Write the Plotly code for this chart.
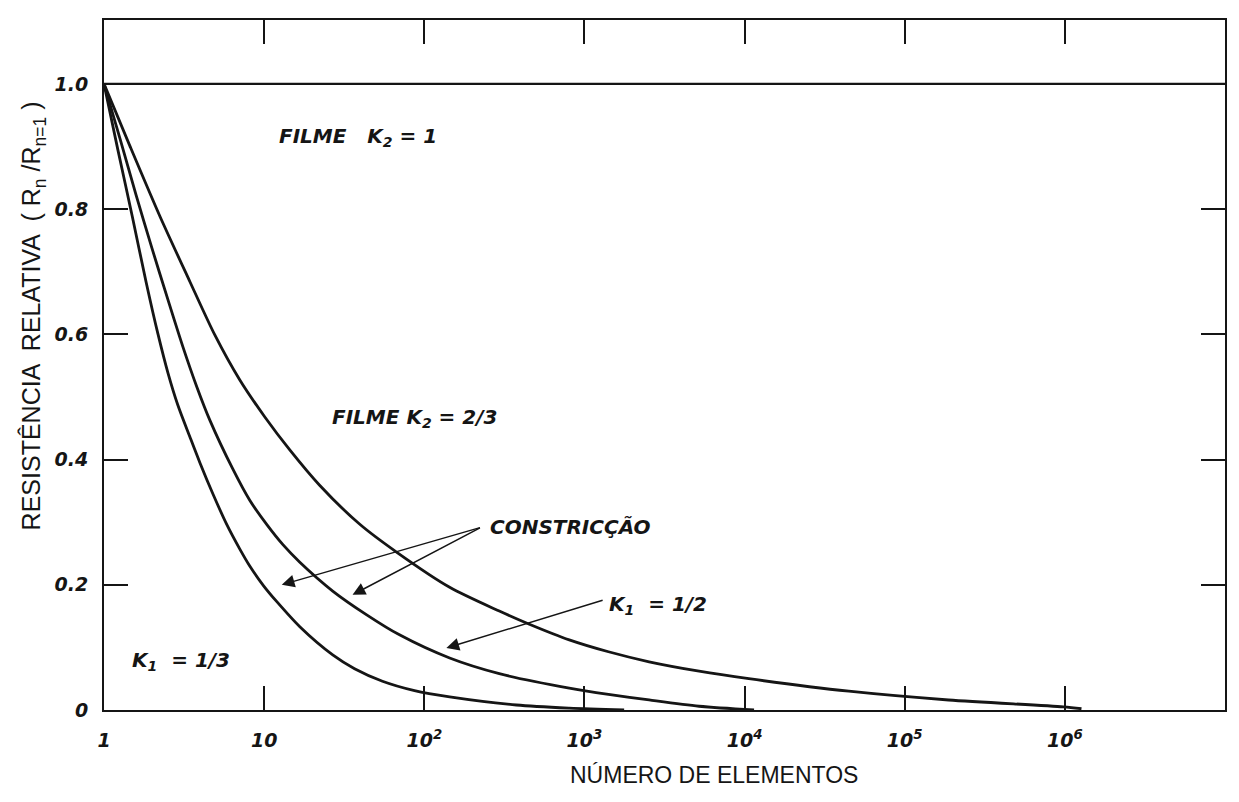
import plotly.graph_objects as go

# ---- data ----
# K1 = 1/3 constriction curve
n_k1_13 = [1, 1.22, 1.50, 1.83, 2.17, 2.51, 2.89, 3.44, 3.97, 4.79, 5.85, 7.05, 8.13,
           9.95, 12.0, 16.7, 26.8, 36.7, 54.8, 86.9, 144, 376, 804, 1770]
r_k1_13 = [1.0, 0.895, 0.789, 0.684, 0.601, 0.538, 0.487, 0.436, 0.395, 0.345, 0.296, 0.257,
           0.230, 0.198, 0.173, 0.133, 0.088, 0.066, 0.046, 0.031, 0.021, 0.008, 0.003, 0.0]

# K1 = 1/2 constriction curve
n_k1_12 = [1, 1.26, 1.58, 1.99, 2.51, 3.11, 3.80, 4.58, 6.37, 8.13, 10.4, 13.1, 16.7,
           26.8, 43.7, 70.0, 144, 294, 804, 1413, 2535, 5200, 11460]
r_k1_12 = [1.0, 0.912, 0.824, 0.738, 0.655, 0.580, 0.516, 0.463, 0.385, 0.335, 0.296, 0.264,
           0.236, 0.190, 0.152, 0.120, 0.083, 0.058, 0.035, 0.025, 0.016, 0.006, 0.0]

# Film K2 = 2/3 curve
n_k2_23 = [1, 1.45, 2.23, 3.44, 4.92, 7.05, 10.1, 14.5, 22.2, 39.4, 68.1, 144, 294, 453,
           804, 1413, 2535, 5200, 10640, 44770, 187900, 979000, 1270000]
r_k2_23 = [1.0, 0.901, 0.789, 0.684, 0.599, 0.527, 0.468, 0.415, 0.359, 0.297, 0.251, 0.196,
           0.158, 0.137, 0.112, 0.093, 0.077, 0.062, 0.050, 0.030, 0.016, 0.005, 0.002]

# Film K2 = 1 (constant)
n_k2_1 = [1, 1e7]
r_k2_1 = [1.0, 1.0]

x_tickvals = [1, 10, 100, 1e3, 1e4, 1e5, 1e6, 1e7]
x_ticktext = ["1", "10", "10<sup>2</sup>", "10<sup>3</sup>", "10<sup>4</sup>",
              "10<sup>5</sup>", "10<sup>6</sup>", "10<sup>7</sup>"]
y_tickvals = [0, 0.2, 0.4, 0.6, 0.8, 1.0]
y_ticktext = ["0", "0.2", "0.4", "0.6", "0.8", "1.0"]

INK = "#151515"

fig = go.Figure()
for xs, ys, w in [(n_k2_1, r_k2_1, 2.2), (n_k1_13, r_k1_13, 2.8),
                  (n_k1_12, r_k1_12, 2.8), (n_k2_23, r_k2_23, 2.8)]:
    fig.add_trace(go.Scatter(x=xs, y=ys, mode="lines", showlegend=False,
                             line=dict(color=INK, width=w, shape="spline", smoothing=0.8),
                             hoverinfo="skip"))

tick_font = dict(family="DejaVu Sans", size=19, color=INK, style="italic", weight="bold")
lab_font = dict(family="DejaVu Sans", size=20, color=INK, style="italic", weight="bold")

fig.update_layout(
    width=1239, height=802,
    margin=dict(l=104, r=12, t=20, b=92),
    paper_bgcolor="white", plot_bgcolor="white",
    xaxis=dict(type="log", range=[0, 7], tickvals=x_tickvals, ticktext=x_ticktext,
               ticks="inside", ticklen=24, tickwidth=1.6, tickcolor=INK,
               showline=True, linewidth=2, linecolor=INK, mirror="ticks",
               showgrid=False, zeroline=False, tickfont=tick_font, ticklabelstandoff=12),
    yaxis=dict(range=[0, 1.102], tickvals=y_tickvals, ticktext=y_ticktext,
               ticks="inside", ticklen=24, tickwidth=1.6, tickcolor=INK,
               showline=True, linewidth=2, linecolor=INK, mirror="ticks",
               showgrid=False, zeroline=False, tickfont=tick_font, ticklabelstandoff=10),
)

# Text labels
texts = [
    ("FILME   K<sub>2</sub> = 1", 1.079, 0.915),
    ("FILME K<sub>2</sub> = 2/3", 1.409, 0.466),
    ("CONSTRICÇÃO", 2.40, 0.292),
    ("K<sub>1</sub>  = 1/2", 3.14, 0.168),
    ("K<sub>1</sub>  = 1/3", 0.16, 0.078),
]
for t, x, y in texts:
    fig.add_annotation(text=t, x=x, y=y, xref="x", yref="y", xanchor="left",
                       yanchor="middle", showarrow=False, font=lab_font)

# Arrows (tail -> tip)
arrows = [
    (2.357, 0.292, 1.110, 0.200),
    (2.357, 0.292, 1.552, 0.184),
    (3.123, 0.176, 2.138, 0.099),
]
for ax, ay, x, y in arrows:
    fig.add_annotation(x=x, y=y, ax=ax, ay=ay, xref="x", yref="y", axref="x", ayref="y",
                       text="", showarrow=True, arrowhead=2, arrowsize=1.7,
                       arrowwidth=1.5, arrowcolor=INK)

# Axis titles
fig.add_annotation(text="NÚMERO DE ELEMENTOS", x=0.544, y=-0.094, xref="paper", yref="paper",
                   showarrow=False, xanchor="center", yanchor="middle",
                   font=dict(family="Liberation Sans", size=23, color=INK))
fig.add_annotation(text="RESISTÊNCIA  RELATIVA  ( R<sub>n</sub> /R<sub>n=1</sub> )",
                   x=-0.063, y=0.571, xref="paper", yref="paper", textangle=-90,
                   showarrow=False, xanchor="center", yanchor="middle",
                   font=dict(family="Liberation Sans", size=25, color=INK))

fig.write_html("out.html")
